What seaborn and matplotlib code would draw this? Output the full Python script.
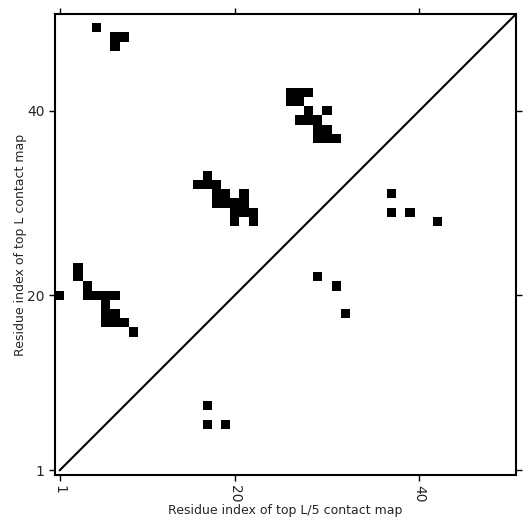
import matplotlib
matplotlib.use('Agg')
import matplotlib.pyplot as plt
from matplotlib.colors import ListedColormap
import numpy as np
import seaborn as sns

L = 50

# contacts of the top L map (above the diagonal): residue i, residue j
top_l_x = [5, 7, 8, 7,
           3, 3, 4, 1, 4, 5, 6, 7, 6, 6, 7, 6, 7, 8, 9,
           17, 16, 17, 18, 18, 19, 21, 18, 19, 20, 21, 20, 21, 22, 20, 22,
           26, 27, 28, 26, 27, 28, 30, 27, 28, 29, 29, 30, 29, 30, 31]
top_l_y = [49, 48, 48, 47,
           23, 22, 21, 20, 20, 20, 20, 20, 19, 18, 18, 17, 17, 17, 16,
           33, 32, 32, 32, 31, 31, 31, 30, 30, 30, 30, 29, 29, 29, 28, 28,
           42, 42, 42, 41, 41, 40, 40, 39, 39, 39, 38, 38, 37, 37, 37]

# contacts of the top L/5 map (below the diagonal)
top_l5_x = [17, 17, 19, 29, 31, 32, 37, 37, 39, 42]
top_l5_y = [8, 6, 6, 22, 21, 18, 31, 29, 29, 28]

tick_pos = [1, 20, 40]

cmap = np.zeros((L, L))
for i, j in zip(top_l_x + top_l5_x, top_l_y + top_l5_y):
    cmap[j - 1, i - 1] = 1

sns.set_style('ticks')
fig = plt.figure(figsize=(5.31, 5.31), dpi=100)
ax = fig.add_axes([0.1036, 0.1055, 0.8682, 0.8681])

sns.heatmap(cmap, ax=ax, cmap=ListedColormap(['white', 'black']), cbar=False,
            vmin=0, vmax=1, xticklabels=False, yticklabels=False)
ax.invert_yaxis()

# diagonal
ax.plot([0.5, L], [0.5, L], color='black', lw=1.5)

for s in ax.spines.values():
    s.set_visible(True)
    s.set_linewidth(1.5)
    s.set_color('black')

ax.set_xticks([p - 0.5 for p in tick_pos])
ax.set_yticks([p - 0.5 for p in tick_pos])
ax.set_xticklabels([str(p) for p in tick_pos], rotation=-90, fontsize=10)
ax.set_yticklabels([str(p) for p in tick_pos], rotation=0, fontsize=10)
ax.tick_params(top=True, right=True, direction='out', length=4, width=1, color='black')
ax.set_xlim(0, L)
ax.set_ylim(0, L)

ax.set_xlabel('Residue index of top L/5 contact map', fontsize=9, labelpad=1)
ax.set_ylabel('Residue index of top L contact map', fontsize=9, labelpad=0)

plt.savefig('out.png', dpi=100)
